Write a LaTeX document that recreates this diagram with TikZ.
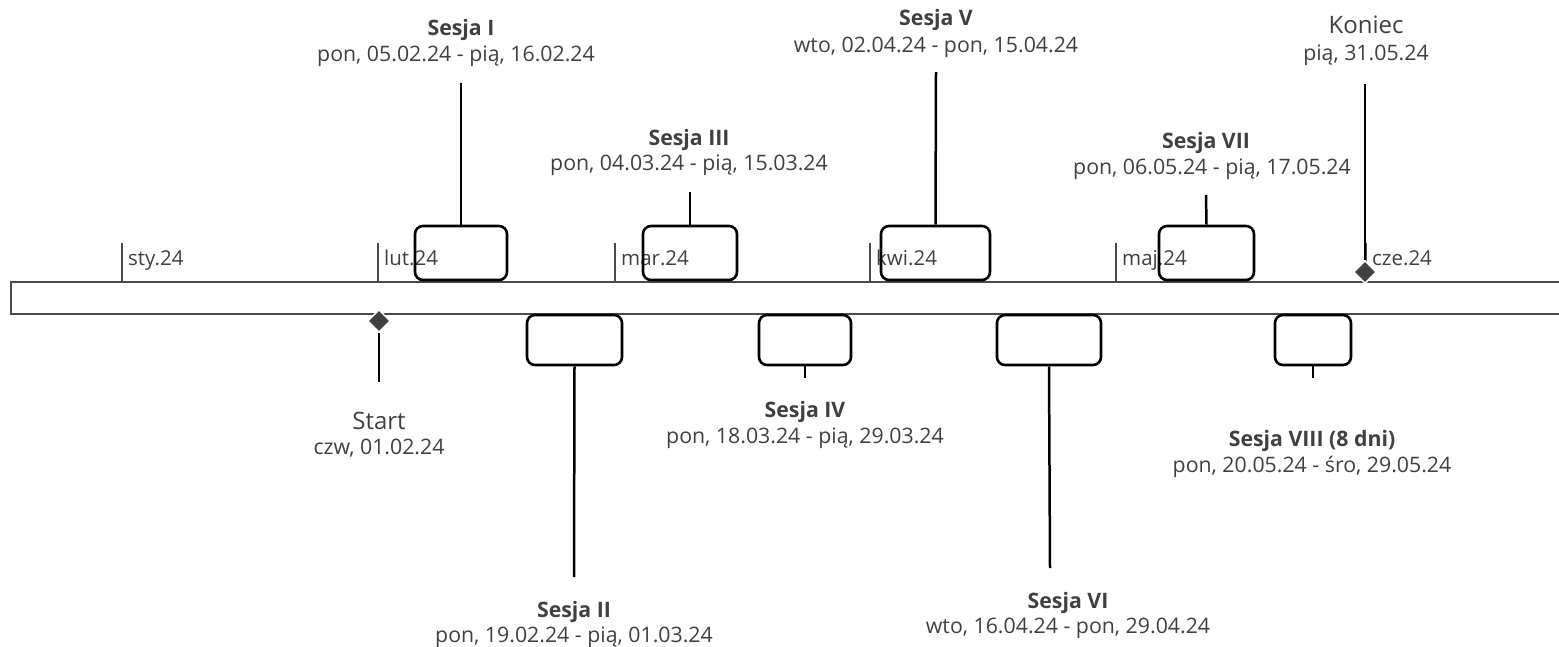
\documentclass[tikz,border=0pt]{standalone}
\usepackage{fontspec}
\setmainfont{Open Sans}
\usetikzlibrary{shapes.geometric}
\definecolor{txt}{HTML}{404040}
\definecolor{barc}{HTML}{4a4a4a}
\tikzset{
  x=1pt, y=-1pt,
  bar/.style={draw=barc, line width=2.2pt},
  tick/.style={draw=barc, line width=2pt},
  month/.style={anchor=base west, inner sep=0pt, text=txt, font=\fontsize{20.5}{24}\selectfont},
  sbox/.style={draw=black, line width=2.6pt, rounded corners=8pt, rectangle, inner sep=0pt},
  conn/.style={draw=black, line width=2.5pt},
  title/.style={anchor=base, inner sep=0pt, text=txt, font=\fontsize{21.3}{24}\selectfont\bfseries},
  date/.style={anchor=base, inner sep=0pt, text=txt, font=\fontsize{21.3}{24}\selectfont},
  big/.style={anchor=base, inner sep=0pt, text=txt, font=\fontsize{24}{28}\selectfont},
  milestone/.style={diamond, fill=txt, draw=white, line width=1.5pt, minimum width=23pt, minimum height=23pt, inner sep=0pt},
}
\begin{document}
\begin{tikzpicture}
\useasboundingbox (0,0) rectangle (1559,646);
% bar
\draw[bar] (1560,282) -- (11,282) -- (11,314) -- (1560,314);
% month ticks
\foreach \n/\x/\t in {m1/122/sty.24, m2/378/lut.24, m3/615/mar.24, m4/870/kwi.24, m5/1116/maj.24, m6/1366/cze.24}{
  \draw[tick] (\x,243) -- (\x,282);
  \node[month] (\n) at (\x+6,265) {\t};
}
% top boxes
\node[sbox, minimum width=92pt, minimum height=54pt] (b1) at (461,253) {};
\node[sbox, minimum width=94pt, minimum height=54pt] (b3) at (690,253) {};
\node[sbox, minimum width=109pt, minimum height=54pt] (b5) at (935.5,253) {};
\node[sbox, minimum width=95pt, minimum height=54pt] (b7) at (1206.5,253) {};
% bottom boxes
\node[sbox, minimum width=95pt, minimum height=50pt] (b2) at (574.5,340) {};
\node[sbox, minimum width=92pt, minimum height=50pt] (b4) at (805,340) {};
\node[sbox, minimum width=104pt, minimum height=50pt] (b6) at (1049,340) {};
\node[sbox, minimum width=76pt, minimum height=50pt] (b8) at (1313,340) {};
% connector ends
\coordinate (c1) at (461,83);
\coordinate (c3) at (690,192);
\coordinate (c5) at (936,72);
\coordinate (c7) at (1206,195);
\coordinate (c2) at (574,577);
\coordinate (c4) at (805,378);
\coordinate (c6) at (1050,568);
\coordinate (c8) at (1313,378);
\draw[conn] (b1.north) -- (c1);
\draw[conn] (b3.north) -- (c3);
\draw[conn] (b5.north) -- (c5);
\draw[conn] (b7.north) -- (c7);
\draw[conn] (b2.south) -- (c2);
\draw[conn] (b4.south) -- (c4);
\draw[conn] (b6.south) -- (c6);
\draw[conn] (b8.south) -- (c8);
% milestones
\node[milestone] (start) at (379,321) {};
\coordinate (cs) at (379,382);
\draw[conn] (start.south) -- (cs);
\node[milestone] (end) at (1365,272) {};
\coordinate (ce) at (1365,84);
\draw[conn] (end.north) -- (ce);
% labels
\node[title] (t1) at (461,35) {Sesja I};
\node[date] (d1) at (456,61) {pon, 05.02.24 - pią, 16.02.24};
\node[title] (t3) at (689,145) {Sesja III};
\node[date] (d3) at (689,170) {pon, 04.03.24 - pią, 15.03.24};
\node[title] (t5) at (936,25) {Sesja V};
\node[date] (d5) at (936,52) {wto, 02.04.24 - pon, 15.04.24};
\node[title] (t7) at (1206,148) {Sesja VII};
\node[date] (d7) at (1212,174) {pon, 06.05.24 - pią, 17.05.24};
\node[big] (tk) at (1366,33) {Koniec};
\node[date] (dk) at (1366,60) {pią, 31.05.24};
\node[big] (ts) at (379,429) {Start};
\node[date] (ds) at (379,454) {czw, 01.02.24};
\node[title] (t2) at (574,617) {Sesja II};
\node[date] (d2) at (574,642) {pon, 19.02.24 - pią, 01.03.24};
\node[title] (t4) at (805,417) {Sesja IV};
\node[date] (d4) at (805,443) {pon, 18.03.24 - pią, 29.03.24};
\node[title] (t6) at (1068,608) {Sesja VI};
\node[date] (d6) at (1068,633) {wto, 16.04.24 - pon, 29.04.24};
\node[title] (t8) at (1312,446) {Sesja VIII (8 dni)};
\node[date] (d8) at (1312,472) {pon, 20.05.24 - śro, 29.05.24};
\end{tikzpicture}
\end{document}
